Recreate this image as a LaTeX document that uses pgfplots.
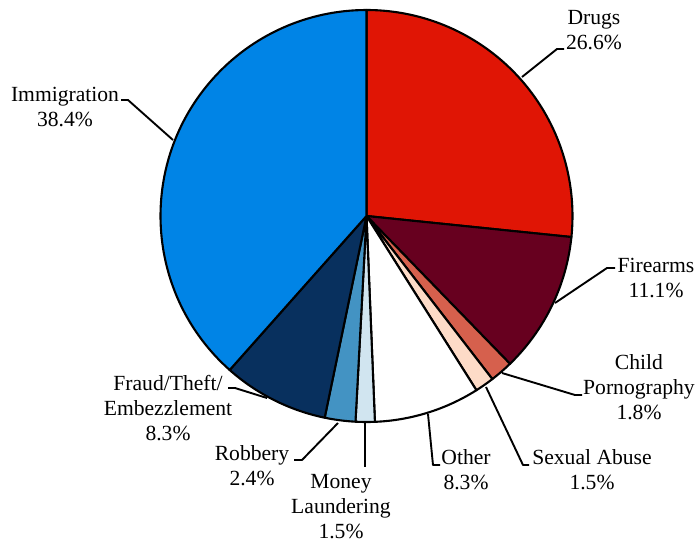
\documentclass[border=0pt]{standalone}
\usepackage{pgfplots}
\pgfplotsset{compat=1.18}
\usepackage{fontspec}
\setmainfont{Liberation Serif}
\definecolor{cDrugs}{RGB}{224,21,5}
\definecolor{cFire}{RGB}{103,0,31}
\definecolor{cChild}{RGB}{214,96,77}
\definecolor{cSex}{RGB}{253,219,199}
\definecolor{cMoney}{RGB}{209,229,240}
\definecolor{cRob}{RGB}{67,147,195}
\definecolor{cFraud}{RGB}{8,48,94}
\definecolor{cImm}{RGB}{0,132,230}
\tikzset{lbl/.style={font=\fontsize{21.6bp}{25bp}\selectfont, align=center, inner sep=0pt},
  lead/.style={line width=1.9bp, line join=round}}
\begin{document}
\begin{tikzpicture}
\useasboundingbox (0,0) rectangle (699bp,543bp);
\begin{axis}[at={(0,0)}, anchor=south west, x=1bp, y=1bp, xmin=0, xmax=699, ymin=0, ymax=543,
  y dir=reverse, hide axis, clip=false, scale only axis]
\foreach \v/\c [remember=\e as \s (initially 90), evaluate=\v as \e using \s-360*\v/99.9] in
  {26.6/cDrugs, 11.1/cFire, 1.8/cChild, 1.5/cSex, 8.3/white, 1.5/cMoney, 2.4/cRob, 8.3/cFraud, 38.4/cImm}{
  \edef\temp{\noexpand\filldraw[fill=\c, draw=black, line width=2.1bp, line join=round]
    (axis cs:366.5,216) -- ++(\s:206bp) arc[start angle=\s, end angle=\e, radius=206bp] -- cycle;}
  \temp
}
% leader lines
\draw[lead] (axis cs:522,77) -- (axis cs:557,49) -- (axis cs:564,49);
\draw[lead] (axis cs:555,303) -- (axis cs:607,268) -- (axis cs:615,268);
\draw[lead] (axis cs:502,373) -- (axis cs:575,395) -- (axis cs:582,395);
\draw[lead] (axis cs:486,387) -- (axis cs:523,465) -- (axis cs:529,465);
\draw[lead] (axis cs:428,414) -- (axis cs:433,465) -- (axis cs:440,465);
\draw[lead] (axis cs:365,423) -- (axis cs:365,467);
\draw[lead] (axis cs:338,423) -- (axis cs:302,460) -- (axis cs:294,460);
\draw[lead] (axis cs:267,398) -- (axis cs:235,388) -- (axis cs:228,388);
\draw[lead] (axis cs:173,140) -- (axis cs:128,100) -- (axis cs:121,100);
% labels
\node[lbl] at (axis cs:594,30) {Drugs\\26.6\%};
\node[lbl] at (axis cs:65,107) {Immigration\\38.4\%};
\node[lbl] at (axis cs:656,278) {Firearms\\11.1\%};
\node[lbl] at (axis cs:639,387) {Child\\Pornography\\1.8\%};
\node[lbl] at (axis cs:592,470) {Sexual Abuse\\1.5\%};
\node[lbl] at (axis cs:466,470) {Other\\8.3\%};
\node[lbl] at (axis cs:341,507) {Money\\Laundering\\1.5\%};
\node[lbl] at (axis cs:252,466) {Robbery\\2.4\%};
\node[lbl] at (axis cs:168,408) {Fraud/Theft/\\Embezzlement\\8.3\%};
\end{axis}
\end{tikzpicture}
\end{document}
